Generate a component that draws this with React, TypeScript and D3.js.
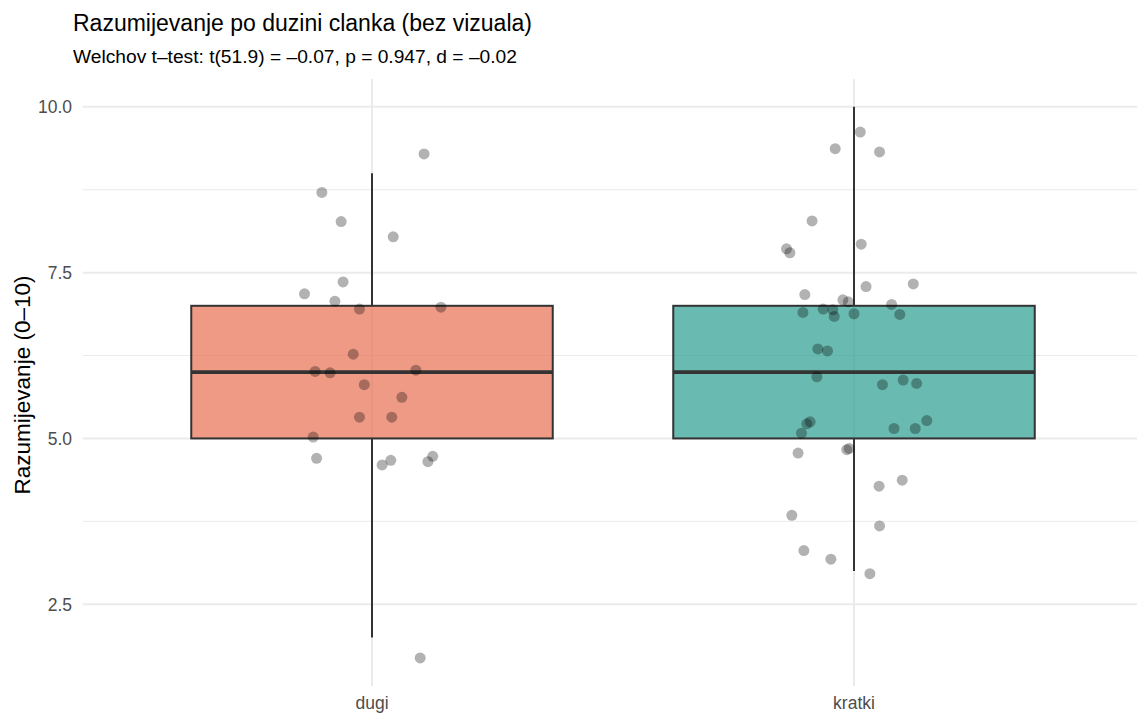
import React from "react";
import * as d3 from "d3";

// categories and box statistics
const groups = ["dugi", "kratki"];
const boxFill = ["#E76F51", "#2A9D8F"];
const whiskerLow = [2, 3];
const q1 = [5, 5];
const median = [6, 6];
const q3 = [7, 7];
const whiskerHigh = [9, 10];

// jittered observations (value, horizontal jitter in category units)
const dugiValues = [
  9.29, 8.71, 8.27, 8.04, 7.36, 7.18, 7.07, 6.95, 6.98, 6.27, 6.01, 5.99,
  6.03, 5.81, 5.62, 5.32, 5.32, 5.02, 4.7, 4.6, 4.67, 4.65, 4.73, 1.69,
];
const dugiJitter = [
  0.108, -0.104, -0.064, 0.044, -0.06, -0.14, -0.077, -0.026, 0.143, -0.039,
  -0.118, -0.087, 0.091, -0.016, 0.062, -0.026, 0.041, -0.122, -0.115, 0.021,
  0.039, 0.116, 0.126, 0.1,
];
const kratkiValues = [
  9.62, 9.37, 9.32, 8.28, 7.93, 7.86, 7.8, 7.17, 7.29, 7.33, 7.09, 7.06, 7.02,
  6.9, 6.95, 6.94, 6.84, 6.88, 6.87, 6.35, 6.32, 5.93, 5.81, 5.88, 5.83, 5.25,
  5.22, 5.08, 5.15, 5.15, 5.27, 4.78, 4.83, 4.85, 4.28, 4.37, 3.84, 3.68, 3.31,
  3.18, 2.96,
];
const kratkiJitter = [
  0.013, -0.039, 0.053, -0.087, 0.015, -0.14, -0.133, -0.102, 0.025, 0.123,
  -0.023, -0.012, 0.078, -0.106, -0.064, -0.044, -0.041, 0, 0.095, -0.075,
  -0.055, -0.077, 0.059, 0.102, 0.13, -0.091, -0.098, -0.109, 0.083, 0.127,
  0.151, -0.116, -0.015, -0.01, 0.052, 0.1, -0.129, 0.053, -0.104, -0.048,
  0.033,
];

const yTicks = [2.5, 5, 7.5, 10];
const yMinor = [3.75, 6.25, 8.75];

const title = "Razumijevanje po duzini clanka (bez vizuala)";
const subtitle = "Welchov t\u2013test: t(51.9) = \u20130.07, p = 0.947, d = \u20130.02";
const yTitle = "Razumijevanje (0\u201310)";

const W = 1137;
const H = 713;
const font = "'Liberation Sans', Arial, Helvetica, sans-serif";

export default function App() {
  const panel = { left: 82.8, right: 1137, top: 79, bottom: 686 };

  const x = d3.scaleLinear().domain([0.4, 2.6]).range([82.8, 1143.2]);
  const y = d3.scaleLinear().domain([1.267, 10.42]).range([panel.bottom, panel.top]);
  const boxW = 0.75;

  const points = [
    ...dugiValues.map((v, i) => ({ g: 0, v, j: dugiJitter[i] })),
    ...kratkiValues.map((v, i) => ({ g: 1, v, j: kratkiJitter[i] })),
  ];

  return (
    <svg
      width={W}
      height={H}
      style={{ position: "absolute", left: 0, top: 0, background: "#fff" }}
      fontFamily={font}
    >
      {/* grid */}
      <g>
        {yMinor.map((t) => (
          <line key={"mi" + t} x1={panel.left} x2={panel.right} y1={y(t)} y2={y(t)} stroke="#EBEBEB" strokeWidth={1} />
        ))}
        {yTicks.map((t) => (
          <line key={"ma" + t} x1={panel.left} x2={panel.right} y1={y(t)} y2={y(t)} stroke="#EBEBEB" strokeWidth={2} />
        ))}
        {groups.map((g, i) => (
          <line key={"vx" + g} x1={x(i + 1)} x2={x(i + 1)} y1={panel.top} y2={panel.bottom} stroke="#EBEBEB" strokeWidth={2} />
        ))}
      </g>

      {/* boxes */}
      {groups.map((g, i) => {
        const cx = x(i + 1);
        const x0 = x(i + 1 - boxW / 2);
        const x1 = x(i + 1 + boxW / 2);
        return (
          <g key={"box" + g}>
            <line x1={cx} x2={cx} y1={y(q3[i])} y2={y(whiskerHigh[i])} stroke="#333333" strokeWidth={2} />
            <line x1={cx} x2={cx} y1={y(q1[i])} y2={y(whiskerLow[i])} stroke="#333333" strokeWidth={2} />
            <rect
              x={x0}
              y={y(q3[i])}
              width={x1 - x0}
              height={y(q1[i]) - y(q3[i])}
              fill={boxFill[i]}
              fillOpacity={0.7}
              stroke="#333333"
              strokeWidth={2}
            />
            <line x1={x0} x2={x1} y1={y(median[i])} y2={y(median[i])} stroke="#333333" strokeWidth={3.6} />
          </g>
        );
      })}

      {/* points */}
      {points.map((p, i) => (
        <circle key={"p" + i} cx={x(p.g + 1 + p.j)} cy={y(p.v)} r={5.5} fill="#000" fillOpacity={0.3} />
      ))}

      {/* axes text */}
      {yTicks.map((t) => (
        <text key={"yt" + t} x={72} y={y(t)} dy="0.36em" textAnchor="end" fontSize={17.5} fill="#4D4D4D">
          {t.toFixed(1)}
        </text>
      ))}
      {groups.map((g, i) => (
        <text key={"xt" + g} x={x(i + 1)} y={709} textAnchor="middle" fontSize={17.5} fill="#4D4D4D">
          {g}
        </text>
      ))}
      <text transform={`translate(29.5,385) rotate(-90)`} textAnchor="middle" fontSize={22.5} fill="#000">
        {yTitle}
      </text>

      <text x={73} y={30.5} fontSize={23} fill="#000">
        {title}
      </text>
      <text x={73} y={63} fontSize={19.2} fill="#000">
        {subtitle}
      </text>
    </svg>
  );
}
